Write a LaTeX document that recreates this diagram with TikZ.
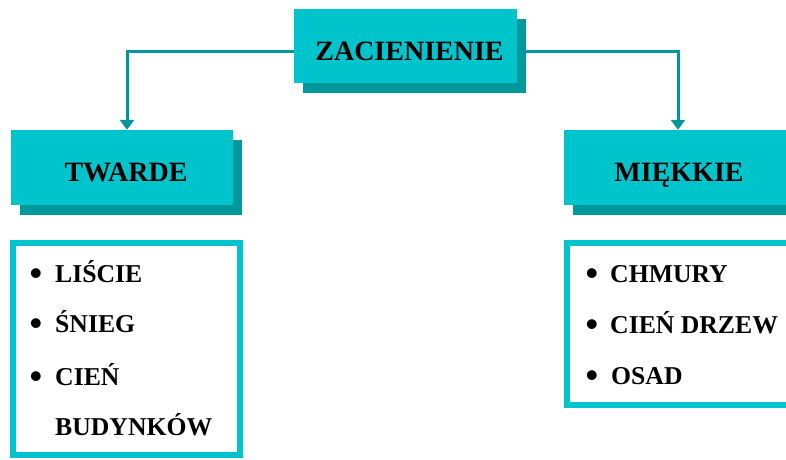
\documentclass[tikz,border=0pt]{standalone}
\usepackage{fontspec}
\setmainfont{Liberation Serif}
\usetikzlibrary{arrows.meta,shadows}
\definecolor{tealfill}{RGB}{0,196,204}
\definecolor{tealshadow}{RGB}{0,153,155}
\definecolor{tealline}{RGB}{0,150,160}
\newcommand{\bigbul}{\raisebox{-3pt}{\scalebox{1.4}{•}}}
\tikzset{
  headbox/.style={rectangle, fill=tealfill, inner sep=0pt, text height=28.5pt, text depth=0pt,
    font=\fontsize{28}{32}\selectfont\bfseries,
    drop shadow={shadow xshift=9pt, shadow yshift=-10pt, fill=tealshadow, opacity=1}},
  listbox/.style={rectangle, draw=tealfill, line width=6pt, fill=white, inner sep=0pt},
  item/.style={anchor=base west, inner sep=0pt, font=\fontsize{25.7}{30}\selectfont\bfseries},
  conn/.style={draw=tealline, line width=3pt, -{Triangle[width=14pt,length=10pt]}}
}
\begin{document}
\begin{tikzpicture}[x=1pt,y=-1pt]
\useasboundingbox (0,0) rectangle (786,459);
\clip (0,0) rectangle (786,459);
\fill[white] (0,0) rectangle (786,459);
% nodes
\node[headbox, minimum width=223pt, minimum height=74pt] (top) at (405.5,46) {\hspace*{8pt}ZACIENIENIE};
\node[headbox, minimum width=222pt, minimum height=75pt] (twarde) at (122,167.5) {\hspace*{8pt}TWARDE};
\node[headbox, minimum width=222pt, minimum height=75pt] (miekkie) at (675,167.5) {\hspace*{8pt}MIĘKKIE};
% connectors
\draw[conn] ([yshift=-5pt]top.west) -| ([xshift=5pt]twarde.north);
\draw[conn] ([yshift=-5pt]top.east) -| ([xshift=3pt]miekkie.north);
% list boxes
\node[listbox, minimum width=227pt, minimum height=212pt] (listL) at (126.5,349) {};
\node[listbox, minimum width=227pt, minimum height=162pt] (listR) at (680.5,324) {};
% left items
\node[item] (l1) at (29.5,282) {\makebox[25.5pt][l]{\bigbul}LIŚCIE};
\node[item] (l2) at (29.5,332) {\makebox[25.5pt][l]{\bigbul}ŚNIEG};
\node[item] (l3) at (29.5,385) {\makebox[25.5pt][l]{\bigbul}CIEŃ};
\node[item] (l4) at (55,435) {BUDYNKÓW};
% right items
\node[item] (r1) at (585.5,282) {\makebox[24.5pt][l]{\bigbul}CHMURY};
\node[item] (r2) at (585.5,333) {\makebox[24.5pt][l]{\bigbul}CIEŃ DRZEW};
\node[item] (r3) at (585.5,384) {\makebox[25.5pt][l]{\bigbul}OSAD};
\end{tikzpicture}
\end{document}
